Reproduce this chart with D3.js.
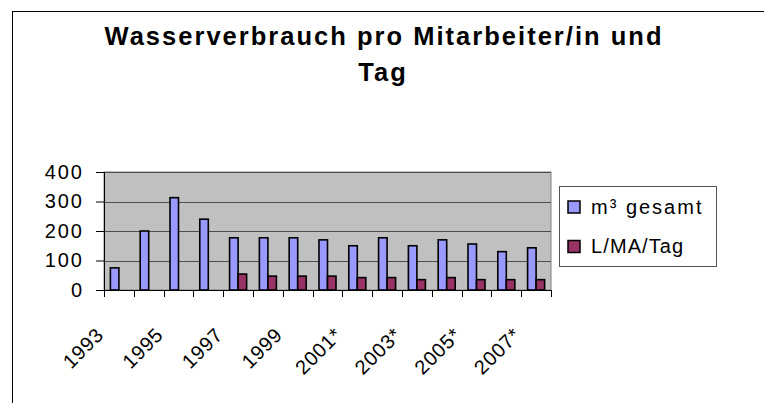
<!DOCTYPE html>
<html>
<head>
<meta charset="utf-8">
<script src="https://cdn.jsdelivr.net/npm/d3@7"></script>
<style>
  body { margin: 0; background: #fff; }
  svg { display: block; font-family: "Liberation Sans", Arial, sans-serif; }
</style>
</head>
<body>
<div id="chart"></div>
<script>
var years = ["1993", "1994", "1995", "1996", "1997", "1998", "1999", "2000",
             "2001*", "2002*", "2003*", "2004*", "2005*", "2006*", "2007*"]
var gesamt = [75, 200, 313, 240, 177, 177, 177, 170, 150, 177, 150, 170, 156, 130, 143]
var proTag = [null, null, null, null, 54, 47, 47, 47, 42, 42, 35, 42, 35, 35, 35]
var seriesNames = ["m\u00b3 gesamt", "L/MA/Tag"]
var yTicks = [0, 100, 200, 300, 400]

var colors = {
  'blue': '#9999ff',
  'red': '#993366',
  'plot': '#c0c0c0',
  'grid': '#4d4d4d'
}

var width = 764, height = 403
var svg = d3.select("#chart").append("svg")
  .attr("width", width)
  .attr("height", height)

// chart frame (only top and left edges are visible)
svg.append("line").attr("x1", 12).attr("x2", width).attr("y1", 11.5).attr("y2", 11.5)
  .attr("stroke", "#000").attr("stroke-width", 1)
svg.append("line").attr("x1", 12.5).attr("x2", 12.5).attr("y1", 11).attr("y2", height)
  .attr("stroke", "#000").attr("stroke-width", 1)

// title
var title = svg.append("text")
  .attr("text-anchor", "middle")
  .attr("font-weight", "bold")
  .attr("font-size", 25.5)
title.append("tspan").attr("x", 383).attr("y", 45)
  .attr("textLength", 557).attr("lengthAdjust", "spacing")
  .text("Wasserverbrauch pro Mitarbeiter/in und")
title.append("tspan").attr("x", 383).attr("y", 81)
  .attr("letter-spacing", 2)
  .text("Tag")

var plot = { left: 104, top: 172, right: 551, bottom: 290 }

var x = d3.scaleBand().domain(years).range([plot.left, plot.right]).padding(0)
var inner = d3.scaleBand().domain([0, 1]).range([0, x.bandwidth()])
  .paddingInner(0).paddingOuter(0.75)
var y = d3.scaleLinear().domain([0, 400]).range([plot.bottom, plot.top])

// plot background
svg.append("rect")
  .attr("x", plot.left).attr("y", plot.top)
  .attr("width", plot.right - plot.left).attr("height", plot.bottom - plot.top)
  .attr("fill", colors.plot)
  .attr("stroke", "#808080")

// gridlines
svg.append("g").selectAll("line")
  .data(yTicks.slice(1))
  .enter().append("line")
  .attr("x1", plot.left).attr("x2", plot.right)
  .attr("y1", function(d) { return Math.round(y(d)) + 0.5 })
  .attr("y2", function(d) { return Math.round(y(d)) + 0.5 })
  .attr("stroke", colors.grid)
  .attr("stroke-width", 1.2)

// bars
var groups = svg.append("g").selectAll("g")
  .data(years)
  .enter().append("g")
  .attr("transform", function(d) { return "translate(" + x(d) + ",0)" })

groups.append("rect")
  .attr("x", inner(0))
  .attr("width", inner.bandwidth())
  .attr("y", function(d, i) { return y(gesamt[i]) })
  .attr("height", function(d, i) { return y(0) - y(gesamt[i]) })
  .attr("fill", colors.blue)
  .attr("stroke", "#000")
  .attr("stroke-width", 1.6)

groups.filter(function(d, i) { return proTag[i] != null })
  .append("rect")
  .attr("x", inner(1))
  .attr("width", inner.bandwidth())
  .attr("y", function(d) { return y(proTag[years.indexOf(d)]) })
  .attr("height", function(d) { return y(0) - y(proTag[years.indexOf(d)]) })
  .attr("fill", colors.red)
  .attr("stroke", "#000")
  .attr("stroke-width", 1.6)

// y axis
var yAxis = d3.axisLeft(y).tickValues(yTicks).tickSize(8).tickPadding(12)
var yg = svg.append("g")
  .attr("transform", "translate(" + plot.left + ",0)")
  .call(yAxis)
yg.select(".domain").attr("stroke", "#000")
yg.selectAll(".tick line").attr("stroke", "#000")
yg.selectAll(".tick text")
  .attr("font-size", 20)
  .attr("letter-spacing", 2)
  .attr("font-family", "Liberation Sans, Arial, sans-serif")
  .attr("fill", "#000")

// x axis: ticks on category borders, labels every other year
var xg = svg.append("g")
xg.append("line")
  .attr("x1", plot.left).attr("x2", plot.right)
  .attr("y1", plot.bottom + 0.5).attr("y2", plot.bottom + 0.5)
  .attr("stroke", "#000")
xg.selectAll(".xt")
  .data(years.concat(["end"]))
  .enter().append("line")
  .attr("class", "xt")
  .attr("x1", function(d, i) { return Math.round(plot.left + i * x.step()) + 0.5 })
  .attr("x2", function(d, i) { return Math.round(plot.left + i * x.step()) + 0.5 })
  .attr("y1", plot.bottom).attr("y2", plot.bottom + 7)
  .attr("stroke", "#000")

xg.selectAll(".xl")
  .data(years.filter(function(d, i) { return i % 2 == 0 }))
  .enter().append("text")
  .attr("class", "xl")
  .attr("text-anchor", "end")
  .attr("font-size", 20)
  .attr("letter-spacing", 0.8)
  .attr("transform", function(d) {
    return "translate(" + (x(d) + x.bandwidth() / 2 - 14) + "," + (plot.bottom + 46) + ") rotate(-45)"
  })
  .text(function(d) { return d })

// legend
var legend = svg.append("g")
legend.append("rect")
  .attr("x", 559.5).attr("y", 186.5).attr("width", 157).attr("height", 80)
  .attr("fill", "#fff").attr("stroke", "#555")
var items = legend.selectAll(".li")
  .data(seriesNames)
  .enter().append("g")
  .attr("class", "li")
  .attr("transform", function(d, i) { return "translate(568," + (201 + i * 39.5) + ")" })
items.append("rect")
  .attr("width", 12).attr("height", 12)
  .attr("fill", function(d, i) { return i == 0 ? colors.blue : colors.red })
  .attr("stroke", "#000").attr("stroke-width", 1.5)
items.append("text")
  .attr("x", 23).attr("y", 12.5)
  .attr("font-size", 20)
  .attr("letter-spacing", function(d, i) { return i == 0 ? 2 : 1.1 })
  .text(function(d) { return d })
</script>
</body>
</html>
